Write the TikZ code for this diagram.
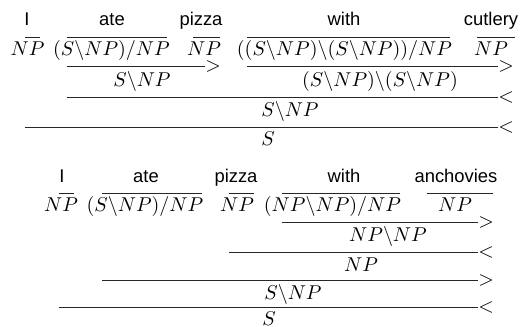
\documentclass[tikz,border=0pt]{standalone}
\usepackage{fontspec}
\newfontfamily\wordfont{Liberation Sans}
\begin{document}
\begin{tikzpicture}[x=0.5pt,y=-0.5pt,
  word/.style={font=\wordfont\fontsize{9.2}{11}\selectfont, inner sep=0pt, anchor=base},
  cat/.style={inner sep=0pt, anchor=base},
  rulel/.style={line width=0.5pt, draw=black!85},
  comb/.style={inner sep=0pt, anchor=west}]
\useasboundingbox (0,0) rectangle (521,327);
% ---------- top derivation ----------
\node[word] (w1) at (27,25) {I};
\node[word] (w2) at (112,25) {ate};
\node[word] (w3) at (201,25) {pizza};
\node[word] (w4) at (344,25) {with};
\node[word] (w5) at (491,25) {cutlery};
\draw[rulel] (25,37) -- (40,37);
\draw[rulel] (67,37) -- (167,37);
\draw[rulel] (193,37) -- (220,37);
\draw[rulel] (247,37) -- (450,37);
\draw[rulel] (477,37) -- (515,37);
\node[cat] (c1) at (27.5,55) {$NP$};
\node[cat] (c2) at (111.5,55) {$(S\backslash NP)/NP$};
\node[cat] (c3) at (204,55) {$NP$};
\node[cat] (c4) at (344.5,55) {$((S\backslash NP)\backslash(S\backslash NP))/NP$};
\node[cat] (c5) at (491,55) {$NP$};
% level 1
\coordinate (a1s) at (67,66); \coordinate (a1e) at (205,66);
\draw[rulel] (a1s) -- (a1e);
\node[comb] (o1) at (a1e) {$>$};
\node[cat] (r1) at (142,86) {$S\backslash NP$};
\coordinate (a2s) at (247,66); \coordinate (a2e) at (498,66);
\draw[rulel] (a2s) -- (a2e);
\node[comb] (o2) at (a2e) {$>$};
\node[cat] (r2) at (380,86) {$(S\backslash NP)\backslash(S\backslash NP)$};
% level 2
\coordinate (a3s) at (67,97); \coordinate (a3e) at (498,97);
\draw[rulel] (a3s) -- (a3e);
\node[comb] (o3) at (a3e) {$<$};
\node[cat] (r3) at (290,116.5) {$S\backslash NP$};
% level 3
\coordinate (a4s) at (25,127); \coordinate (a4e) at (498,127);
\draw[rulel] (a4s) -- (a4e);
\node[comb] (o4) at (a4e) {$<$};
\node[cat] (r4) at (268,145.5) {$S$};
% ---------- bottom derivation ----------
\node[word] (v1) at (62,182) {I};
\node[word] (v2) at (146,182) {ate};
\node[word] (v3) at (236,182) {pizza};
\node[word] (v4) at (344,182) {with};
\node[word] (v5) at (456,182) {anchovies};
\draw[rulel] (59,193) -- (74,193);
\draw[rulel] (102,193) -- (202,193);
\draw[rulel] (229,193) -- (254,193);
\draw[rulel] (282,193) -- (400,193);
\draw[rulel] (427,193) -- (493,193);
\node[cat] (d1) at (61,211) {$NP$};
\node[cat] (d2) at (145,211) {$(S\backslash NP)/NP$};
\node[cat] (d3) at (237,211) {$NP$};
\node[cat] (d4) at (332.5,211) {$(NP\backslash NP)/NP$};
\node[cat] (d5) at (455,211) {$NP$};
% level 1
\coordinate (b1s) at (282,222); \coordinate (b1e) at (478,222);
\draw[rulel] (b1s) -- (b1e);
\node[comb] (p1) at (b1e) {$>$};
\node[cat] (s1) at (388,241.5) {$NP\backslash NP$};
% level 2
\coordinate (b2s) at (229,252); \coordinate (b2e) at (478,252);
\draw[rulel] (b2s) -- (b2e);
\node[comb] (p2) at (b2e) {$<$};
\node[cat] (s2) at (361,271) {$NP$};
% level 3
\coordinate (b3s) at (102,280); \coordinate (b3e) at (478,280);
\draw[rulel] (b3s) -- (b3e);
\node[comb] (p3) at (b3e) {$>$};
\node[cat] (s3) at (293,299.5) {$S\backslash NP$};
% level 4
\coordinate (b4s) at (59,307); \coordinate (b4e) at (478,307);
\draw[rulel] (b4s) -- (b4e);
\node[comb] (p4) at (b4e) {$<$};
\node[cat] (s4) at (269,325) {$S$};
\end{tikzpicture}
\end{document}
